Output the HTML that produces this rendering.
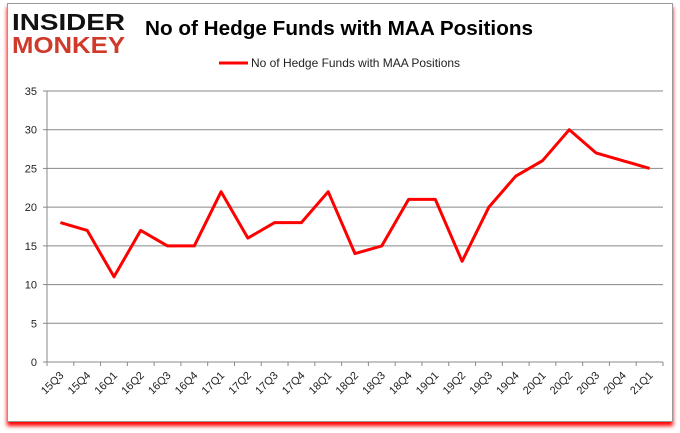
<!DOCTYPE html>
<html><head><meta charset="utf-8"><style>
body{margin:0;background:#fff;width:680px;height:433px;overflow:hidden;font-family:"Liberation Sans",sans-serif}
#frame{position:absolute;left:7px;top:3px;width:664px;height:417px;border:1px solid #999;background:#fff;box-shadow:0 4px 4px #f00}
</style></head><body>
<div id="frame"></div>
<svg id="chart" width="680" height="433" style="position:absolute;left:0;top:0">
<g>
<text x="12" y="30" font-size="23" font-weight="bold" fill="#111" textLength="113" lengthAdjust="spacingAndGlyphs">INSIDER</text>
<text x="12" y="53" font-size="23" font-weight="bold" fill="#d03a2a" textLength="113" lengthAdjust="spacingAndGlyphs">MONKEY</text>
</g>
<text x="339" y="35" text-anchor="middle" font-size="20" font-weight="bold" fill="#000" textLength="388" lengthAdjust="spacingAndGlyphs">No of Hedge Funds with MAA Positions</text>
<g>
<line x1="219" y1="63" x2="248" y2="63" stroke="#f00" stroke-width="3"/>
<text x="251" y="67" font-size="12" fill="#222" textLength="209" lengthAdjust="spacingAndGlyphs">No of Hedge Funds with MAA Positions</text>
</g>
<g id="grid"></g><g id="axes"></g><g id="series"></g>
</svg>
<script>
const categories=["15Q3","15Q4","16Q1","16Q2","16Q3","16Q4","17Q1","17Q2","17Q3","17Q4","18Q1","18Q2","18Q3","18Q4","19Q1","19Q2","19Q3","19Q4","20Q1","20Q2","20Q3","20Q4","21Q1"];
const values=[18,17,11,17,15,15,22,16,18,18,22,14,15,21,21,13,20,24,26,30,27,26,25];
const yTicks=[0,5,10,15,20,25,30,35];
const NS="http://www.w3.org/2000/svg";
const L=47,R=663,T=91,B=362;
const step=(R-L)/categories.length;
const xs=i=>L+step*(i+0.5);
const ys=v=>B-(v/35)*(B-T);
function mk(tag,attrs,parent){const e=document.createElementNS(NS,tag);for(const k in attrs)e.setAttribute(k,attrs[k]);parent.appendChild(e);return e;}
const grid=document.getElementById('grid'),axes=document.getElementById('axes'),series=document.getElementById('series');
yTicks.forEach(t=>{
 const y=ys(t);
 if(t>0){const g=mk('line',{x1:L,x2:R,y1:y,y2:y,stroke:'#888','stroke-width':1},grid);
 
 }
 mk('line',{x1:L-4,x2:L,y1:y,y2:y,stroke:'#888'},axes);
 const tx=mk('text',{x:L-10,y:y+4,'text-anchor':'end','font-size':11,fill:'#222'},axes);
 tx.textContent=t;
 
 
});
mk('line',{x1:L,x2:L,y1:T,y2:B,stroke:'#888'},axes);
mk('line',{x1:L,x2:R,y1:B,y2:B,stroke:'#888'},axes);
categories.forEach((c,i)=>{
 const x=L+step*i;
 mk('line',{x1:x,x2:x,y1:B,y2:B+4,stroke:'#888'},axes);
 const cx=xs(i);
 const tx=mk('text',{x:cx+4,y:B+14,'text-anchor':'end','font-size':11,fill:'#222',transform:`rotate(-45 ${cx+4} ${B+14})`},axes);
 tx.textContent=c;
 
 
});
mk('line',{x1:R,x2:R,y1:B,y2:B+4,stroke:'#888'},axes);
const pts=values.map((v,i)=>xs(i).toFixed(1)+','+ys(v).toFixed(1)).join(' ');
const pl=mk('polyline',{points:pts,fill:'none',stroke:'#f00','stroke-width':3,'stroke-linejoin':'round'},series);


</script>
</body></html>
